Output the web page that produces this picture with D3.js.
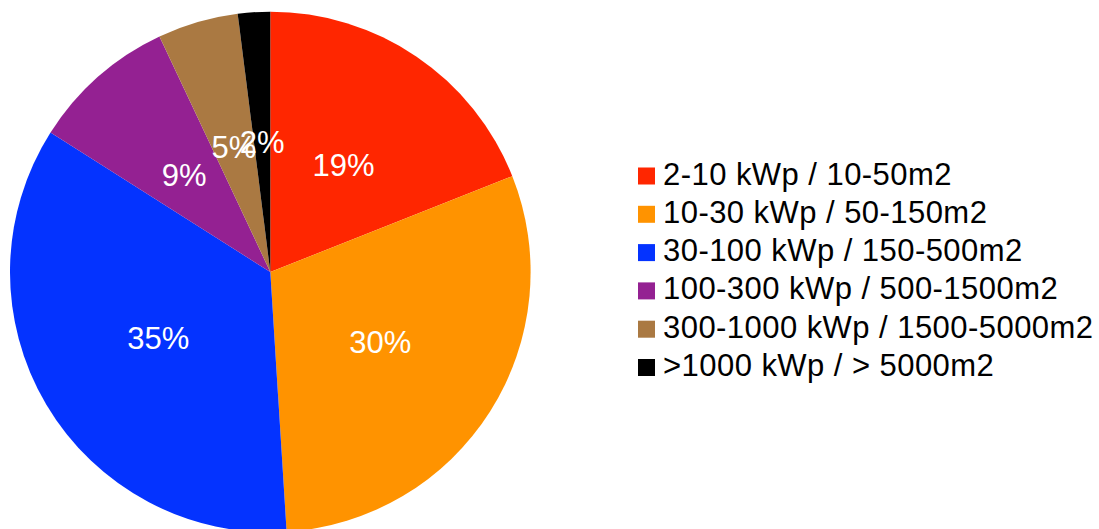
<!DOCTYPE html>
<html>
<head>
<meta charset="utf-8">
<script src="https://cdn.jsdelivr.net/npm/d3@7"></script>
<style>
  html, body { margin: 0; padding: 0; background: #fff; }
  svg { display: block; }
  text { font-family: "Liberation Sans", Arial, sans-serif; }
</style>
</head>
<body>
<svg id="chart" width="1099" height="529"></svg>
<script>
const categories = [
  "2-10 kWp / 10-50m2",
  "10-30 kWp / 50-150m2",
  "30-100 kWp / 150-500m2",
  "100-300 kWp / 500-1500m2",
  "300-1000 kWp / 1500-5000m2",
  ">1000 kWp / > 5000m2"
];
const values = [19, 30, 35, 9, 5, 2];
const colors = ["#ff2600", "#ff9300", "#0433ff", "#942192", "#aa7942", "#000000"];

const svg = d3.select("#chart");
const cx = 270.3, cy = 272, r = 260.3;

const data = categories.map((c, i) => ({ cat: c, value: values[i], color: colors[i] }));
const pie = d3.pie().value(d => d.value).sort(null);
const arcs = pie(data);
const arc = d3.arc().innerRadius(0).outerRadius(r);
const labelArc = d3.arc().innerRadius(r / 2).outerRadius(r / 2);

const g = svg.append("g").attr("transform", `translate(${cx},${cy})`);
g.selectAll("path.slice").data(arcs).enter().append("path")
  .attr("class", "slice")
  .attr("d", arc)
  .attr("fill", d => d.data.color);

g.selectAll("text.lbl").data(arcs).enter().append("text")
  .attr("class", "lbl")
  .attr("transform", d => `translate(${labelArc.centroid(d)})`)
  .attr("text-anchor", "middle")
  .attr("dy", "0.36em")
  .attr("fill", "#fff")
  .style("font-size", "31px")
  .text(d => d.data.value + "%");

const legend = svg.append("g").attr("transform", "translate(638,167.5)");
const rowH = 38.3;
const rows = legend.selectAll("g.row").data(data).enter().append("g")
  .attr("class", "row")
  .attr("transform", (d, i) => `translate(0,${i * rowH})`);
rows.append("rect").attr("x", 0).attr("y", 0).attr("width", 17).attr("height", 17)
  .attr("fill", d => d.color);
rows.append("text").attr("x", 25).attr("y", 17)
  .style("font-size", "31px")
  .style("letter-spacing", "0.45px")
  .attr("fill", "#000")
  .text(d => d.cat);
</script>
</body>
</html>
